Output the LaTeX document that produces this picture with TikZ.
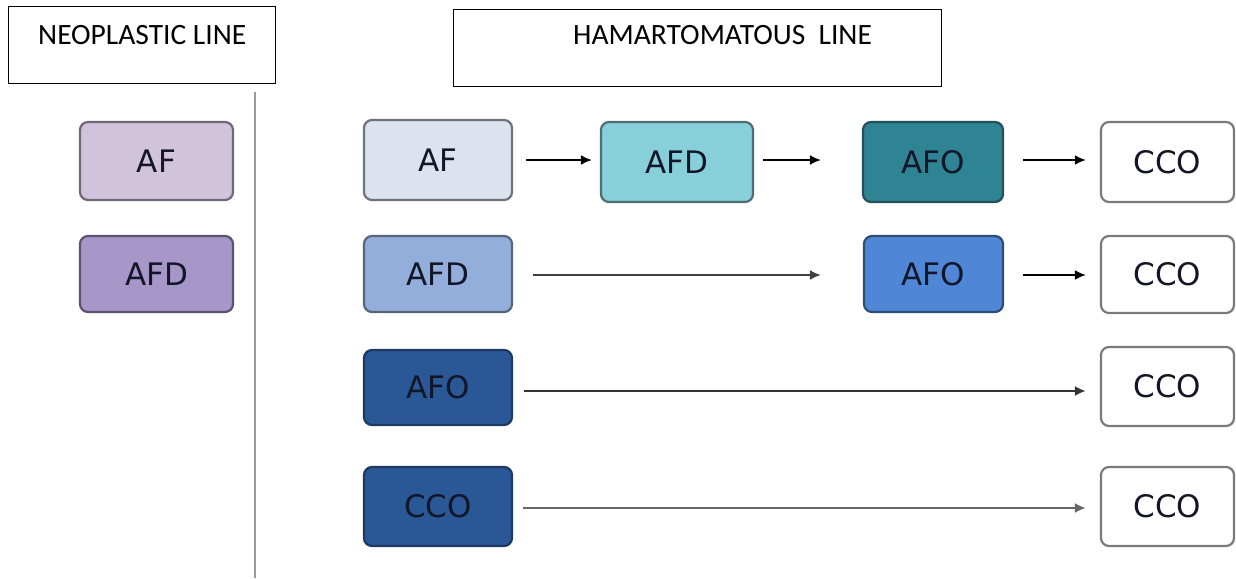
\documentclass[tikz,border=0pt]{standalone}
\usepackage{fontspec}
\setmainfont{DejaVu Sans}
\newfontfamily\headfont{Carlito}
\newfontfamily\boxfont{DejaVu Sans}
\usetikzlibrary{arrows.meta}
\definecolor{txt}{HTML}{121628}
\definecolor{nafF}{HTML}{D2C3DD}\definecolor{nafD}{HTML}{6E6878}
\definecolor{nafdF}{HTML}{A697C8}\definecolor{nafdD}{HTML}{5B5470}
\definecolor{hafF}{HTML}{DCE3EF}\definecolor{hafD}{HTML}{6E737C}
\definecolor{hafdaF}{HTML}{87CFD9}\definecolor{hafdaD}{HTML}{4F6E73}
\definecolor{hafoaF}{HTML}{2F8494}\definecolor{hafoaD}{HTML}{24505A}
\definecolor{hafdbF}{HTML}{93AEDA}\definecolor{hafdbD}{HTML}{56657A}
\definecolor{hafobF}{HTML}{4F86D6}\definecolor{hafobD}{HTML}{2D4D75}
\definecolor{hafocF}{HTML}{2A5796}\definecolor{hafocD}{HTML}{1F3A60}
\definecolor{ccoD}{HTML}{7A7A7A}
\tikzset{
  cbox/.style={draw, rounded corners=8pt, line width=2.2pt, inner sep=0pt,
    font=\boxfont\fontsize{31}{34}\selectfont, text=txt},
  hdr/.style={draw=black, line width=1pt, fill=white},
  hdrtext/.style={anchor=base west, inner sep=0pt, font=\headfont\fontsize{29.5}{32}\selectfont},
  arr/.style={line width=2pt, -{Latex[length=11pt,width=10pt]}},
}
\begin{document}
\begin{tikzpicture}[x=1pt,y=-1pt]
\useasboundingbox (0,0) rectangle (1236,578);
% headers
\node[hdr, minimum width=267pt, minimum height=76pt] (neo) at (141.5,45) {};
\node[hdrtext] (neot) at (38,45) {NEOPLASTIC LINE};
\node[hdr, minimum width=488pt, minimum height=76pt] (ham) at (697,48) {};
\node[hdrtext] (hamt) at (573,45) {HAMARTOMATOUS\ \ LINE};
% divider
\coordinate (dtop) at (255,92);
\coordinate (dbot) at (255,578);
\draw[line width=2pt, color=gray!80] (dtop) -- (dbot);
% neoplastic boxes
\node[cbox, fill=nafF, draw=nafD, minimum width=153pt, minimum height=78pt] (nAF) at (156.5,161) {AF};
\node[cbox, fill=nafdF, draw=nafdD, minimum width=153pt, minimum height=76pt] (nAFD) at (156.5,274) {AFD};
% hamartomatous row 1
\node[cbox, fill=hafF, draw=hafD, minimum width=148pt, minimum height=80pt] (hAF) at (438,160) {AF};
\node[cbox, fill=hafdaF, draw=hafdaD, minimum width=152pt, minimum height=80pt] (hAFDa) at (677,162) {AFD};
\node[cbox, fill=hafoaF, draw=hafoaD, minimum width=140pt, minimum height=80pt] (hAFOa) at (933,162) {AFO};
\node[cbox, fill=white, draw=ccoD, minimum width=133pt, minimum height=80pt] (cA) at (1167.5,162) {CCO};
% row 2
\node[cbox, fill=hafdbF, draw=hafdbD, minimum width=148pt, minimum height=76pt] (hAFDb) at (438,274) {AFD};
\node[cbox, fill=hafobF, draw=hafobD, minimum width=139pt, minimum height=76pt] (hAFOb) at (933.5,274) {AFO};
\node[cbox, fill=white, draw=ccoD, minimum width=133pt, minimum height=77pt] (cB) at (1167.5,274.5) {CCO};
% row 3
\node[cbox, fill=hafocF, draw=hafocD, minimum width=148pt, minimum height=75pt] (hAFOc) at (438,387.5) {AFO};
\node[cbox, fill=white, draw=ccoD, minimum width=133pt, minimum height=79pt] (cC) at (1167.5,386.5) {CCO};
% row 4
\node[cbox, fill=hafocF, draw=hafocD, minimum width=148pt, minimum height=79pt] (hCCOd) at (438,506.5) {CCO};
\node[cbox, fill=white, draw=ccoD, minimum width=133pt, minimum height=79pt] (cD) at (1167.5,506.5) {CCO};
% arrows (yshift is in page direction: positive = up)
\draw[arr] ([xshift=13pt]hAF.east) -- ([xshift=-8pt,yshift=2pt]hAFDa.west);
\draw[arr] ([xshift=9pt,yshift=2pt]hAFDa.east) -- ([xshift=-41pt,yshift=2pt]hAFOa.west);
\draw[arr] ([xshift=19pt,yshift=2pt]hAFOa.east) -- ([xshift=-14pt,yshift=2pt]cA.west);
\draw[arr, draw=black!75] ([xshift=20pt,yshift=-1pt]hAFDb.east) -- ([xshift=-42pt,yshift=-1pt]hAFOb.west);
\draw[arr] ([xshift=19pt,yshift=-1pt]hAFOb.east) -- ([xshift=-14pt,yshift=-0.5pt]cB.west);
\draw[arr, line width=2.6pt, draw=black!80] ([xshift=11pt,yshift=-3.5pt]hAFOc.east) -- ([xshift=-14pt,yshift=-4.5pt]cC.west);
\draw[arr, line width=2.6pt, draw=black!60] ([xshift=10pt,yshift=-1.5pt]hCCOd.east) -- ([xshift=-14pt,yshift=-1.5pt]cD.west);
\end{tikzpicture}
\end{document}
